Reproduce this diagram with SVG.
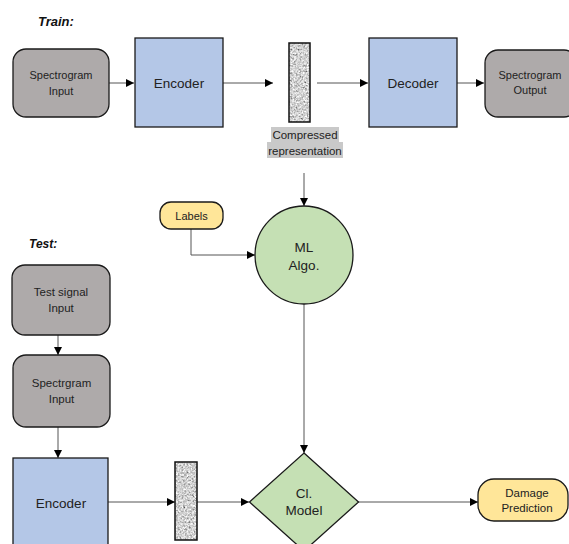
<svg xmlns="http://www.w3.org/2000/svg" width="569" height="544" viewBox="0 0 569 544">
<style>
text{font-family:"Liberation Sans",Arial,sans-serif;fill:#222;text-anchor:middle}
.gray{fill:#aeaaaa;stroke:#1a1a1a;stroke-width:1.3}
.blue{fill:#b4c7e7;stroke:#1a1a1a;stroke-width:1.3}
.green{fill:#c5e0b4;stroke:#1a1a1a;stroke-width:1.3}
.yellow{fill:#ffe699;stroke:#1a1a1a;stroke-width:1.3}
.bar{fill:#fff;filter:url(#noise)}
.barb{fill:none;stroke:#111;stroke-width:1.5}
.conn path{fill:none;stroke:#555;stroke-width:1;marker-end:url(#ah)}
.t11{font-size:11px}
.t115{font-size:11.5px}
.t135{font-size:13.5px}
.hdr{font-weight:bold;font-style:italic;text-anchor:start;fill:#111}
</style>
<defs>
<marker id="ah" markerUnits="userSpaceOnUse" markerWidth="9" markerHeight="8" refX="8" refY="4" orient="auto">
<path d="M0,0 L8,4 L0,8 Z" fill="#000"/>
</marker>
<filter id="noise" x="0" y="0" width="100%" height="100%">
<feTurbulence type="fractalNoise" baseFrequency="0.55" numOctaves="3" seed="7" result="t"/>
<feColorMatrix in="t" type="matrix" values="0.33 0.33 0.33 0 0 0.33 0.33 0.33 0 0 0.33 0.33 0.33 0 0 0 0 0 0 1" result="g"/>
<feComponentTransfer in="g" result="c">
<feFuncR type="linear" slope="2.4" intercept="-0.55"/>
<feFuncG type="linear" slope="2.4" intercept="-0.55"/>
<feFuncB type="linear" slope="2.4" intercept="-0.55"/>
</feComponentTransfer>
<feComposite in="c" in2="SourceGraphic" operator="in"/>
</filter>
</defs>
<rect width="569" height="544" fill="#fff"/>

<text class="hdr" x="38" y="26" font-size="13">Train:</text>
<text class="hdr" x="29" y="248" font-size="12">Test:</text>

<g class="conn">
<path d="M109,83 H134"/>
<path d="M223,83 H273"/>
<path d="M317,83 H368"/>
<path d="M457,83 H484"/>
<path d="M304,173 V206"/>
<path d="M191,229 V255 H255"/>
<path d="M58,335 V355"/>
<path d="M58,427 V458"/>
<path d="M108,502 H175"/>
<path d="M197,502 H249"/>
<path d="M304,304 V453"/>
<path d="M358,502 H478"/>
</g>

<g id="spec-input">
<rect class="gray" x="13" y="49" width="96" height="68" rx="13"/>
<text class="t11" x="61" y="79">Spectrogram</text>
<text class="t11" x="61" y="95">Input</text>
</g>
<g id="encoder-train">
<rect class="blue" x="135" y="38" width="88" height="89"/>
<text class="t135" x="179" y="88">Encoder</text>
</g>
<g id="latent-train">
<rect class="bar" x="289" y="43" width="21" height="79"/>
<rect class="barb" x="289" y="43" width="21" height="79"/>
</g>
<g id="compressed-label">
<rect x="271" y="127" width="68" height="15.5" fill="#c9c9c9"/>
<rect x="267" y="142" width="76" height="16" fill="#c9c9c9"/>
<text class="t115" x="305" y="139">Compressed</text>
<text class="t115" x="305" y="155">representation</text>
</g>
<g id="decoder">
<rect class="blue" x="369" y="38" width="88" height="89"/>
<text class="t135" x="413" y="88">Decoder</text>
</g>
<g id="spec-output">
<rect class="gray" x="485" y="50" width="92" height="67" rx="13"/>
<text class="t11" x="530" y="79">Spectrogram</text>
<text class="t11" x="530" y="94">Output</text>
</g>
<g id="labels">
<rect class="yellow" x="160" y="202" width="63" height="27" rx="11"/>
<text class="t11" x="191.5" y="220">Labels</text>
</g>
<g id="ml-algo">
<circle class="green" cx="304" cy="255" r="49"/>
<text class="t135" x="304" y="252">ML</text>
<text class="t135" x="304" y="270">Algo.</text>
</g>
<g id="test-signal">
<rect class="gray" x="12" y="265" width="98" height="70" rx="13"/>
<text class="t115" x="61" y="296">Test signal</text>
<text class="t115" x="61" y="312">Input</text>
</g>
<g id="spectrgram-input">
<rect class="gray" x="13" y="355" width="97" height="72" rx="13"/>
<text class="t115" x="61.5" y="387">Spectrgram</text>
<text class="t115" x="61.5" y="403">Input</text>
</g>
<g id="encoder-test">
<rect class="blue" x="13" y="458" width="95" height="94"/>
<text class="t135" x="61" y="508">Encoder</text>
</g>
<g id="latent-test">
<rect class="bar" x="175" y="462" width="22" height="78"/>
<rect class="barb" x="175" y="462" width="22" height="78"/>
</g>
<g id="cl-model">
<path class="green" d="M304,453 L358.5,502 L304,551 L249.5,502 Z"/>
<text class="t135" x="304" y="498">Cl.</text>
<text class="t135" x="304" y="515">Model</text>
</g>
<g id="damage-prediction">
<rect class="yellow" x="478" y="479" width="90" height="42" rx="16"/>
<text class="t115" x="527" y="497">Damage</text>
<text class="t115" x="527" y="512">Prediction</text>
</g>
</svg>
